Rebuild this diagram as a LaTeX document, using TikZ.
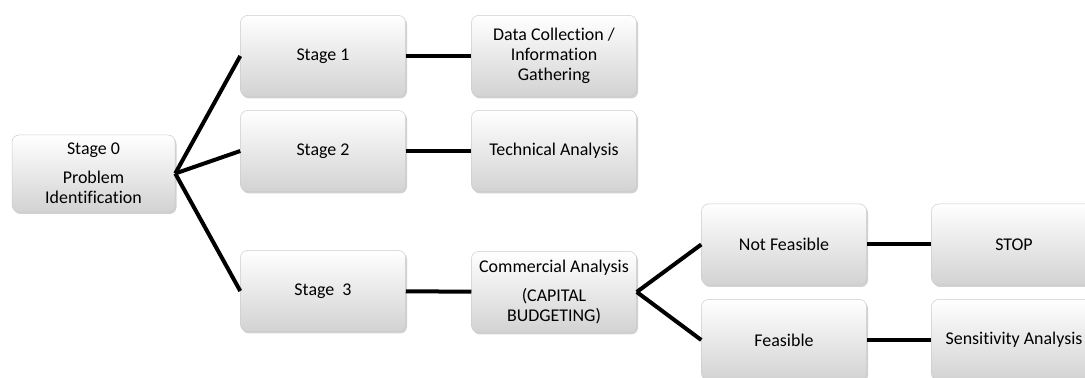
\documentclass[tikz,border=0pt]{standalone}
\usepackage{fontspec}
\setmainfont{Carlito}[Ligatures={NoCommon}]
\usetikzlibrary{shadows}
\tikzset{
  box/.style={rectangle,rounded corners=7bp,minimum width=165bp,minimum height=81bp,
    inner sep=2bp,align=center,draw=gray!40,line width=0.5bp,
    top color=white,bottom color=gray!35,
    drop shadow={shadow xshift=1.5bp,shadow yshift=-2bp,fill=gray!60,opacity=0.6},
    font=\fontsize{18}{20}\selectfont},
  link/.style={black,line width=4bp},
}
\begin{document}
\begin{tikzpicture}[line join=bevel,]
\useasboundingbox (0bp,0bp) rectangle (1085bp,378bp);
\clip (0bp,0bp) rectangle (1085bp,378bp);
%%
\node (stage_0) at (93.5bp,204.5bp) [box,minimum width=163bp,minimum height=77bp] {Stage 0\\[9bp]Problem\\Identification};
\node (stage_1) at (323bp,322bp) [box] {Stage 1};
\node (stage_2) at (323bp,227bp) [box] {Stage 2};
\node (stage_3) at (323bp,87bp) [box] {Stage\ \ 3};
\node (data_col) at (554bp,322bp) [box] {Data Collection /\\Information\\Gathering};
\node (tech) at (554bp,227bp) [box] {Technical Analysis};
\node (comm) at (554bp,86bp) [box] {Commercial Analysis\\[9bp](CAPITAL\\BUDGETING)};
\node (not_feas) at (784bp,133.5bp) [box] {Not Feasible};
\node (feas) at (784bp,38bp) [box] {Feasible};
\node (stop) at (1014bp,133.5bp) [box] {STOP};
\node (sens) at (1014bp,38bp) [box] {Sensitivity Analysis};
%
\draw [link] (stage_0.east) -- (stage_1.west);
\draw [link] (stage_0.east) -- (stage_2.west);
\draw [link] (stage_0.east) -- (stage_3.west);
\draw [link] (stage_1) -- (data_col);
\draw [link] (stage_2) -- (tech);
\draw [link] (stage_3) -- (comm);
\draw [link] (comm.east) -- (not_feas.west);
\draw [link] (comm.east) -- (feas.west);
\draw [link] (not_feas) -- (stop);
\draw [link] (feas) -- (sens);
%
\end{tikzpicture}
\end{document}
